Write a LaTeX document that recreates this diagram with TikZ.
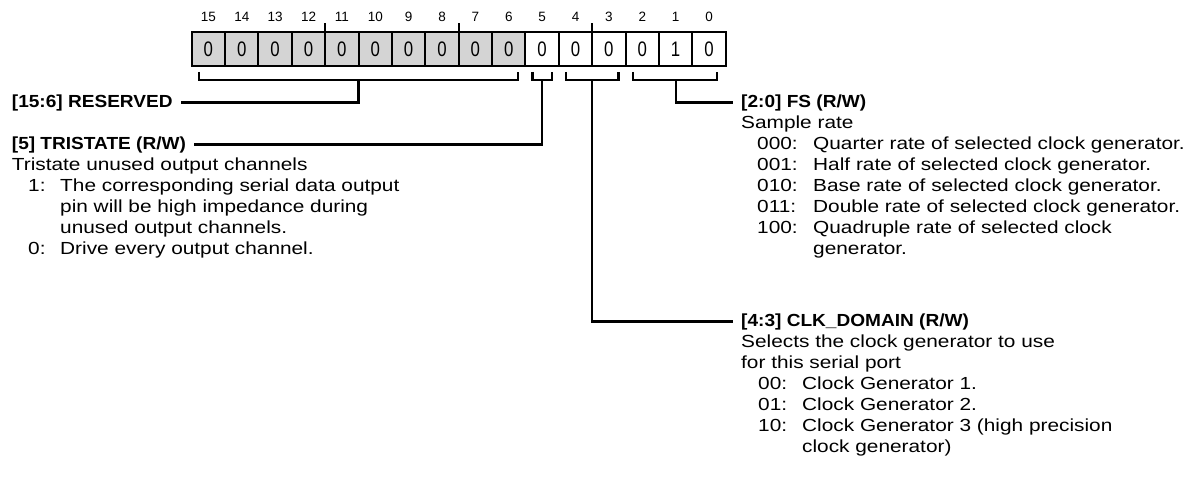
\documentclass[tikz,border=0pt]{standalone}
\usepackage{fontspec}
\setmainfont{Liberation Sans}[FakeStretch=1.19]
\newfontfamily\hdfont{Liberation Sans}[FakeStretch=1.09]
\newfontfamily\numfont{Liberation Sans}
\newfontfamily\cellfont{Liberation Sans}[FakeStretch=0.8]
\usetikzlibrary{calc}
\definecolor{cellgray}{RGB}{212,212,212}
\begin{document}
\begin{tikzpicture}[x=1pt,y=-1pt,
  cell/.style={draw, line width=2pt, outer sep=0pt, minimum width=33.375pt, minimum height=34pt, inner sep=0pt, font=\cellfont\fontsize{21}{21}\selectfont},
  gcell/.style={cell, fill=cellgray},
  wcell/.style={cell, fill=white},
  bitlbl/.style={inner sep=0pt, font=\numfont\fontsize{13.5}{13.5}\selectfont},
  tickline/.style={line width=1.6pt},
  brk/.style={line width=2.2pt},
  conn/.style={line width=2.2pt},
  txt/.style={anchor=base west, inner sep=0pt, font=\fontsize{17.5}{21}\selectfont},
  hd/.style={anchor=base west, inner sep=0pt, font=\hdfont\bfseries\fontsize{17.5}{21}\selectfont}
]
\useasboundingbox (0,0) rectangle (1186,487);

% register cells
\foreach \b/\v in {15/0,14/0,13/0,12/0,11/0,10/0,9/0,8/0,7/0,6/0}{
  \node[gcell] (c\b) at ({191.7+(15-\b)*33.375+16.6875},49) {\v};
  \node[bitlbl] (n\b) at ({191.7+(15-\b)*33.375+16.6875},17) {\b};
}
\foreach \b/\v in {5/0,4/0,3/0,2/0,1/1,0/0}{
  \node[wcell] (c\b) at ({191.7+(15-\b)*33.375+16.6875},49) {\v};
  \node[bitlbl] (n\b) at ({191.7+(15-\b)*33.375+16.6875},17) {\b};
}
\draw[line width=2pt] (c15.north west) rectangle (c0.south east);

% nibble ticks
\draw[tickline] (c12.north east) -- ++(0,-9);
\draw[tickline] (c8.north east) -- ++(0,-9);
\draw[tickline] (c4.north east) -- ++(0,-9);

% brackets
\draw[brk] ($(c15.south west)+(7.5,6)$) -- ($(c15.south west)+(7.5,14)$) -- ($(c6.south east)+(-7.5,14)$) -- ($(c6.south east)+(-7.5,6)$);
\draw[brk] ($(c5.south west)+(7,6)$) -- ($(c5.south west)+(7,14)$) -- ($(c5.south east)+(-7,14)$) -- ($(c5.south east)+(-7,6)$);
\draw[brk] ($(c4.south west)+(7,6)$) -- ($(c4.south west)+(7,14)$) -- ($(c3.south east)+(-7,14)$) -- ($(c3.south east)+(-7,6)$);
\draw[brk] ($(c2.south west)+(7.5,6)$) -- ($(c2.south west)+(7.5,14)$) -- ($(c0.south east)+(-9,14)$) -- ($(c0.south east)+(-9,6)$);

\coordinate (sres) at ($($(c15.south west)!0.5!(c6.south east)$)+(0,14)$);
\coordinate (stri) at ($($(c5.south west)!0.5!(c5.south east)$)+(0,14)$);
\coordinate (sclk) at ($($(c4.south west)!0.5!(c3.south east)$)+(0,14)$);
\coordinate (sfs)  at ($($(c2.south west)!0.5!(c0.south east)$)+(0,14)$);

% left texts
\node[hd] (hres) at (11.7,107) {[15:6] RESERVED};
\node[hd] (htri) at (11.7,149) {[5] TRISTATE (R/W)};
\node[txt] (l1) at (11.7,170) {Tristate unused output channels};
\node[txt] (l2a) at (28,191) {1:};
\node[txt] (l2b) at (60,191) {The corresponding serial data output};
\node[txt] (l3) at (60,212) {pin will be high impedance during};
\node[txt] (l4) at (60,233) {unused output channels.};
\node[txt] (l5a) at (28,254) {0:};
\node[txt] (l5b) at (60,254) {Drive every output channel.};

% right texts: FS
\node[hd] (hfs) at (741,107) {[2:0] FS (R/W)};
\node[txt] (r1) at (741,128) {Sample rate};
\node[txt] (r2a) at (757,149) {000:};
\node[txt] (r2b) at (813,149) {Quarter rate of selected clock generator.};
\node[txt] (r3a) at (757,170) {001:};
\node[txt] (r3b) at (813,170) {Half rate of selected clock generator.};
\node[txt] (r4a) at (757,191) {010:};
\node[txt] (r4b) at (813,191) {Base rate of selected clock generator.};
\node[txt] (r5a) at (757,212) {011:};
\node[txt] (r5b) at (813,212) {Double rate of selected clock generator.};
\node[txt] (r6a) at (757,233) {100:};
\node[txt] (r6b) at (813,233) {Quadruple rate of selected clock};
\node[txt] (r7) at (813,254) {generator.};

% right texts: CLK_DOMAIN
\node[hd] (hclk) at (741,326) {[4:3] CLK\_DOMAIN (R/W)};
\node[txt] (k1) at (741,347) {Selects the clock generator to use};
\node[txt] (k2) at (741,368) {for this serial port};
\node[txt] (k3a) at (758,389) {00:};
\node[txt] (k3b) at (802,389) {Clock Generator 1.};
\node[txt] (k4a) at (758,410) {01:};
\node[txt] (k4b) at (802,410) {Clock Generator 2.};
\node[txt] (k5a) at (758,431) {10:};
\node[txt] (k5b) at (802,431) {Clock Generator 3 (high precision};
\node[txt] (k6) at (802,452) {clock generator)};

% connectors
\draw[conn] (sres) |- ([xshift=8pt]hres.east);
\draw[conn] (stri) |- ([xshift=8pt]htri.east);
\draw[conn] (sfs) |- ([xshift=-8pt]hfs.west);
\draw[conn] (sclk) |- ([xshift=-8pt]hclk.west);
\end{tikzpicture}
\end{document}
